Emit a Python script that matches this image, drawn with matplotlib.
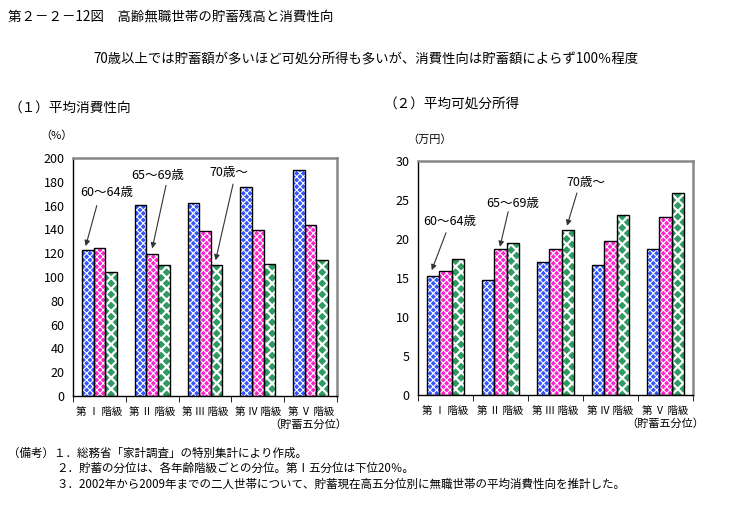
import matplotlib.pyplot as plt
import numpy as np

plt.rcParams['font.family'] = ['Noto Sans CJK JP', 'DejaVu Sans']

categories = ['第 Ⅰ 階級', '第 Ⅱ 階級', '第 Ⅲ 階級', '第 Ⅳ 階級', '第 Ⅴ 階級']
series_names = ['60～64歳', '65～69歳', '70歳～']

# (1) 平均消費性向 (%)
propensity = [
    [122.6, 160.4, 162.1, 175.6, 189.9],   # 60～64歳
    [124.3, 119.2, 138.8, 139.4, 143.6],   # 65～69歳
    [104.0, 110.0, 110.0, 110.8, 114.2],   # 70歳～
]

# (2) 平均可処分所得 (万円)
income = [
    [15.3, 14.8, 17.1, 16.7, 18.7],
    [15.9, 18.7, 18.7, 19.8, 22.8],
    [17.4, 19.5, 21.2, 23.1, 25.9],
]

colors = ['#3355ff', '#ff22cc', '#2f9a62']
hatches = ['xxxxx', 'xxxxx', 'xxx']
hatch_lw = [0.8, 0.8, 1.6]


def draw_bars(ax, data, ymax, ystep):
    x = np.arange(len(categories))
    w = 0.22
    for i, vals in enumerate(data):
        xs = x + (i - 1) * w
        with plt.rc_context({'hatch.linewidth': hatch_lw[i]}):
            ax.bar(xs, vals, w, color=colors[i], hatch=hatches[i],
                   edgecolor='white', linewidth=0, zorder=2)
        ax.bar(xs, vals, w, fill=False, edgecolor='black',
               linewidth=1.0, zorder=3)
    ax.set_xlim(-0.5, len(categories) - 0.5)
    ax.set_ylim(0, ymax)
    ax.set_yticks(np.arange(0, ymax + 1, ystep))
    ax.set_xticks(x)
    ax.set_xticklabels(categories, fontsize=7.5)
    ax.set_xticks(np.arange(-0.5, len(categories), 1.0), minor=True)
    ax.tick_params(axis='x', which='major', length=0, pad=8)
    ax.tick_params(axis='x', which='minor', length=4, direction='out')
    ax.tick_params(axis='y', length=0, labelsize=9, pad=6)
    for s in ['top', 'right']:
        ax.spines[s].set_color('#888888')
        ax.spines[s].set_linewidth(1.8)
    for s in ['left', 'bottom']:
        ax.spines[s].set_color('black')
        ax.spines[s].set_linewidth(1.0)
    ax.text(1.04, -0.12, '（貯蓄五分位）', transform=ax.transAxes,
            ha='right', va='center', fontsize=8)


def arrow(ax, label, tip, start, text_xy):
    ax.annotate('', xy=tip, xytext=start,
                arrowprops=dict(arrowstyle='-|>', color='#333333', lw=0.8,
                                mutation_scale=8, shrinkA=0, shrinkB=0),
                zorder=5)
    ax.text(text_xy[0], text_xy[1], label, fontsize=9, ha='center',
            va='center', zorder=5)


fig = plt.figure(figsize=(7.31, 5.16), dpi=100)

ax1 = fig.add_axes([0.0999, 0.2326, 0.3612, 0.4612])
draw_bars(ax1, propensity, 200, 20)
arrow(ax1, series_names[0], (-0.26, 126), (-0.05, 160), (0.14, 171))
arrow(ax1, series_names[1], (1.0, 124), (1.26, 177), (1.11, 185))
arrow(ax1, series_names[2], (2.2, 114), (2.53, 178), (2.46, 188))

ax2 = fig.add_axes([0.5718, 0.2345, 0.3762, 0.4535])
draw_bars(ax2, income, 30, 5)
arrow(ax2, series_names[0], (-0.25, 16.0), (0.01, 20.8), (0.07, 22.2))
arrow(ax2, series_names[1], (0.99, 19.0), (1.14, 23.5), (1.23, 24.6))
arrow(ax2, series_names[2], (2.21, 21.7), (2.39, 25.9), (2.55, 27.3))

fig.text(0.011, 0.967, '第２－２－12図　高齢無職世帯の貯蓄残高と消費性向',
         fontsize=9.7, va='center')
fig.text(0.5, 0.884,
         '70歳以上では貯蓄額が多いほど可処分所得も多いが、消費性向は貯蓄額によらず100％程度',
         fontsize=9.6, ha='center', va='center')
fig.text(0.011, 0.792, '（１）平均消費性向', fontsize=9.8, va='center')
fig.text(0.524, 0.800, '（２）平均可処分所得', fontsize=9.8, va='center')
fig.text(0.077, 0.738, '（%）', fontsize=8, va='center', ha='center')
fig.text(0.588, 0.730, '（万円）', fontsize=8, va='center', ha='center')

fig.text(0.011, 0.122, '（備考）１．総務省「家計調査」の特別集計により作成。',
         fontsize=8.3, va='center')
fig.text(0.077, 0.093, '２．貯蓄の分位は、各年齢階級ごとの分位。第Ⅰ五分位は下位20％。',
         fontsize=8.3, va='center')
fig.text(0.077, 0.062,
         '３．2002年から2009年までの二人世帯について、貯蓄現在高五分位別に無職世帯の平均消費性向を推計した。',
         fontsize=8.3, va='center')

fig.savefig('out.png', dpi=100)
